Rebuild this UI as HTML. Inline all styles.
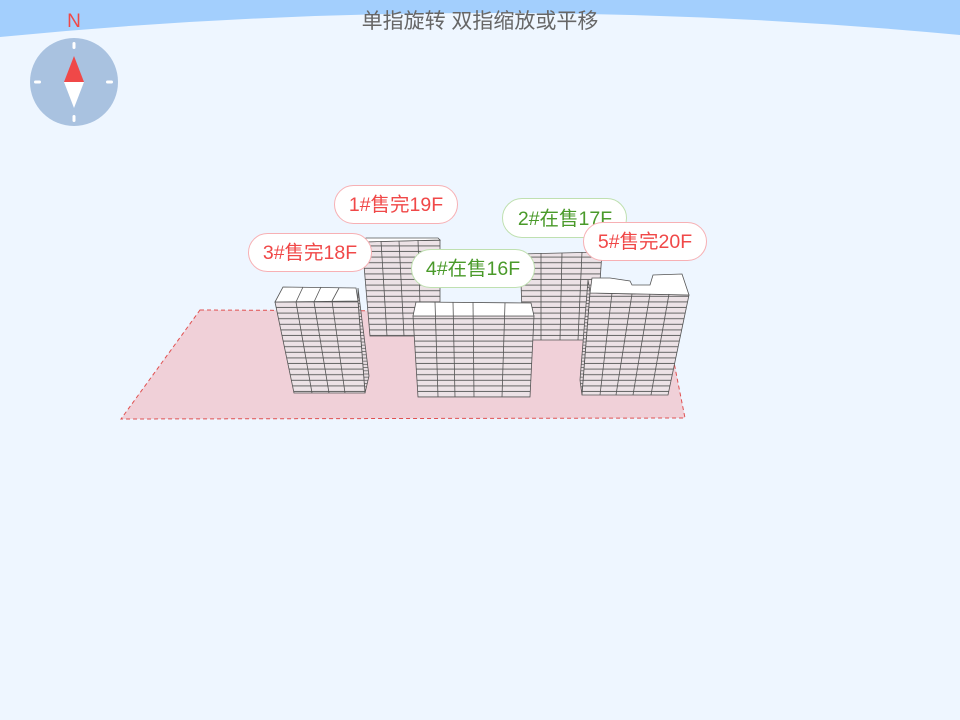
<!DOCTYPE html>
<html><head><meta charset="utf-8">
<style>
html,body{margin:0;padding:0;width:960px;height:720px;overflow:hidden;background:#eef6ff;}
svg{display:block}
text{font-family:"Liberation Sans","Noto Sans CJK SC",sans-serif;}
</style></head><body>
<svg width="960" height="720" viewBox="0 0 960 720">
<defs>
<pattern id="fl" patternUnits="userSpaceOnUse" width="10" height="5.6">
<rect width="10" height="5.6" fill="#ece2e6"/>
<rect y="4.6" width="10" height="1" fill="#666"/>
</pattern>
<pattern id="fs" patternUnits="userSpaceOnUse" width="10" height="3.2">
<rect width="10" height="3.2" fill="#e8dde2"/>
<rect y="2.4" width="10" height="0.8" fill="#666"/>
</pattern>
</defs>
<rect width="960" height="720" fill="#eef6ff"/>
<path d="M0,0 H960 V35 Q480,-10 0,37 Z" fill="#a3cffd"/>
<text x="480" y="28" text-anchor="middle" font-size="21" fill="#666">单指旋转 双指缩放或平移</text>
<!-- compass -->
<text x="74" y="27" text-anchor="middle" font-size="19" fill="#f04848">N</text>
<circle cx="74" cy="82" r="44" fill="#a9c2e0"/>
<rect x="72.5" y="42" width="3" height="7" rx="1.5" fill="#fff"/>
<rect x="72.5" y="115" width="3" height="7" rx="1.5" fill="#fff"/>
<rect x="34" y="80.5" width="7" height="3" rx="1.5" fill="#fff"/>
<rect x="106" y="80.5" width="7" height="3" rx="1.5" fill="#fff"/>
<polygon points="74,56 64,82 84,82" fill="#f04848"/>
<polygon points="74,108 64,82 84,82" fill="#fff"/>
<!-- ground -->
<polygon points="200,310 664,312 685,418 121,419" fill="#f0d0d8" stroke="#e05050" stroke-width="1" stroke-dasharray="4,3"/>
<!-- 1# -->
<polygon points="362,242 440,240 440,336 370,336" fill="url(#fl)" stroke="#555" stroke-width="0.8"/>
<polygon points="362,242 366,238 438,238 440,240" fill="#fff" stroke="#555" stroke-width="0.8"/>
<g stroke="#555" stroke-width="0.8"><line x1="381" y1="241" x2="387" y2="336"/><line x1="399" y1="241" x2="404" y2="336"/><line x1="418" y1="240" x2="421" y2="336"/></g>
<!-- 2# -->
<polygon points="520,254 602,252 596,340 523,340" fill="url(#fl)" stroke="#555" stroke-width="0.8"/>
<g stroke="#555" stroke-width="0.8"><line x1="541" y1="253" x2="541" y2="340"/><line x1="562" y1="253" x2="560" y2="340"/><line x1="582" y1="252" x2="578" y2="340"/></g>
<!-- 3# -->
<polygon points="358,301 358,288 369,376 365,393" fill="url(#fs)" stroke="#555" stroke-width="0.8"/>
<polygon points="275,302 358,301 365,393 294,393" fill="url(#fl)" stroke="#555" stroke-width="0.8"/>
<polygon points="275,302 283,287 356,288 358,301" fill="#fff" stroke="#555" stroke-width="0.8"/>
<g stroke="#555" stroke-width="0.8"><line x1="296" y1="302" x2="312" y2="393"/><line x1="314" y1="302" x2="329" y2="393"/><line x1="332" y1="301" x2="345" y2="393"/><line x1="303" y1="287" x2="296" y2="302"/><line x1="321" y1="287" x2="314" y2="302"/><line x1="339" y1="288" x2="332" y2="301"/></g>
<!-- 4# -->
<polygon points="413,316 534,316 530,397 418,397" fill="url(#fl)" stroke="#555" stroke-width="0.8"/>
<polygon points="413,316 416,302 531,303 534,316" fill="#fff" stroke="#555" stroke-width="0.8"/>
<g stroke="#555" stroke-width="0.8"><line x1="435" y1="302" x2="438" y2="397"/><line x1="453" y1="302" x2="455" y2="397"/><line x1="473" y1="302" x2="474" y2="397"/><line x1="505" y1="303" x2="502" y2="397"/></g>
<!-- 5# -->
<polygon points="590,292 588,280 580,380 582,395" fill="url(#fs)" stroke="#555" stroke-width="0.8"/>
<polygon points="590,293 689,295 668,395 582,395" fill="url(#fl)" stroke="#555" stroke-width="0.8"/>
<polygon points="590,293 592,278 610,278 630,281 632,285 650,285 653,275 682,274 689,295" fill="#fff" stroke="#555" stroke-width="0.8"/>
<g stroke="#555" stroke-width="0.8"><line x1="612" y1="293" x2="600" y2="395"/><line x1="632" y1="294" x2="616" y2="395"/><line x1="650" y1="294" x2="633" y2="395"/><line x1="669" y1="294" x2="651" y2="395"/></g>
<!-- labels -->
<g font-size="19.5">
<rect x="334.5" y="185.5" width="123" height="38" rx="19" fill="#fff" stroke="#f7b0b4"/>
<text x="396" y="211" text-anchor="middle" fill="#f04848">1#售完19F</text>
<rect x="502.5" y="198.5" width="124" height="39" rx="19.5" fill="#fff" stroke="#bfe0b0"/>
<text x="565" y="225" text-anchor="middle" fill="#4a9a2a">2#在售17F</text>
<rect x="248.5" y="233.5" width="123" height="38" rx="19" fill="#fff" stroke="#f7b0b4"/>
<text x="310" y="259" text-anchor="middle" fill="#f04848">3#售完18F</text>
<rect x="411.5" y="249.5" width="123" height="38" rx="19" fill="#fff" stroke="#bfe0b0"/>
<text x="473" y="275" text-anchor="middle" fill="#4a9a2a">4#在售16F</text>
<rect x="583.5" y="222.5" width="123" height="38" rx="19" fill="#fff" stroke="#f7b0b4"/>
<text x="645" y="248" text-anchor="middle" fill="#f04848">5#售完20F</text>
</g>
</svg>
</body></html>
